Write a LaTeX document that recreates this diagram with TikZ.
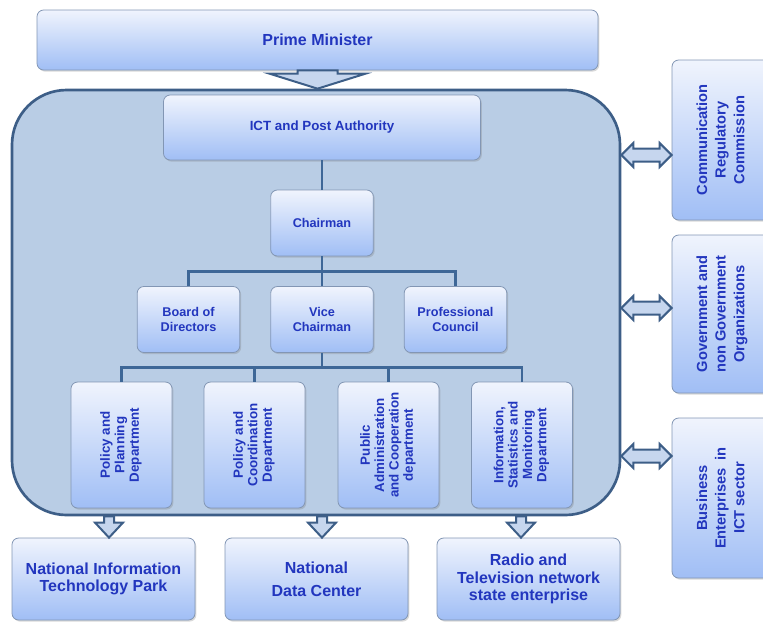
\documentclass[tikz,border=0pt]{standalone}
\usepackage{fontspec}
\setmainfont{Liberation Sans}
\usepackage{graphicx}
\usepackage{tikz}
\usetikzlibrary{calc, positioning, shadings, shadows}
\usepackage{xcolor}
\definecolor{HubFill}{RGB}{185,205,229}
\definecolor{HubLine}{RGB}{61,94,135}
\definecolor{LinkBlue}{RGB}{62,103,151}
\definecolor{BoxTop}{RGB}{240,244,253}
\definecolor{BoxBottom}{RGB}{160,190,245}
\definecolor{BoxEdge}{RGB}{130,150,180}
\definecolor{TextBlue}{RGB}{34,54,190}
\definecolor{ArrowFill}{RGB}{198,214,238}
\newcommand{\uptext}[1]{\rotatebox{90}{\begin{tabular}{@{}c@{}}#1\end{tabular}}}
\tikzset{%
  hub_block/.style={%
    rectangle,%
    rounded corners=41pt,%
    draw=HubLine,%
    line width=2pt,%
    fill=HubFill,%
    minimum width=456pt,%
    minimum height=318.75pt%
  },
  org_block/.style={%
    rectangle,%
    rounded corners=5pt,%
    draw=BoxEdge,%
    line width=0.6pt,%
    top color=BoxTop,%
    bottom color=BoxBottom,%
    text=TextBlue,%
    align=center,%
    inner sep=0pt,%
    drop shadow={opacity=0.3, shadow xshift=1pt, shadow yshift=-1.2pt},%
  },
  pm_block/.style={%
    org_block,%
    minimum width=420.75pt,%
    minimum height=45pt,%
    font={\bfseries\fontsize{12}{14}\selectfont},%
  },
  head_block/.style={%
    org_block,%
    minimum width=237.75pt,%
    minimum height=48.75pt,%
    font={\bfseries\fontsize{10}{12}\selectfont},%
  },
  small_block/.style={%
    org_block,%
    minimum width=77pt,%
    minimum height=49.5pt,%
    font={\bfseries\fontsize{9.5}{11.5}\selectfont},%
  },
  dept_block/.style={%
    org_block,%
    minimum width=75.75pt,%
    minimum height=94.5pt,%
    font={\bfseries\fontsize{10}{10.8}\selectfont},%
  },
  out_block/.style={%
    org_block,%
    minimum width=137.25pt,%
    minimum height=61.5pt,%
    font={\bfseries\fontsize{12}{13}\selectfont},%
  },
  side_block/.style={%
    org_block,%
    minimum width=75pt,%
    minimum height=120pt,%
    font={\bfseries\fontsize{11}{14}\selectfont},%
  },
  org_path/.style={%
    draw=LinkBlue,%
    line width=2.2pt,%
  },
  fat_arrow/.style={%
    draw=HubLine,%
    line width=1.5pt,%
    fill=ArrowFill,%
    line join=miter,%
  },
}
\begin{document}
\begin{tikzpicture}[x=0.75pt, y=0.75pt]
  \useasboundingbox (0,0) rectangle (763,-622);

  \node[hub_block] (hub) at (316,-302.5) {};

  \node[pm_block] (PM) at (317.5,-40) {Prime Minister};
  \node[head_block] (ICT) at (322,-127.5) {ICT and Post Authority};
  \node[small_block] (Chair) at (322,-223) {Chairman};
  \node[small_block] (Board) at (188.5,-319.5) {Board of\\Directors};
  \node[small_block] (Vice) at (322,-319.5) {Vice\\Chairman};
  \node[small_block] (Prof) at (455.5,-319.5) {Professional\\Council};

  \node[dept_block] (D1) at (121.5,-445) {\uptext{Policy and\\Planning\\Department}};
  \node[dept_block] (D2) at (254.5,-445) {\uptext{Policy and\\Coordination\\Department}};
  \node[dept_block] (D3) at (388.5,-445) {\uptext{Public\\Administration\\and Cooperation\\department}};
  \node[dept_block] (D4) at (522,-445) {\uptext{Information,\\Statistics and\\Monitoring\\Department}};

  \node[out_block] (NITP) at (103.5,-579) {National Information\\Technology Park};
  \node[out_block] (NDC) at (316.5,-579) {National\\[4pt]Data Center};
  \node[out_block] (RTV) at (528.5,-579) {Radio and\\Television network\\state enterprise};

  \node[side_block] (CRC) at (722,-140) {\uptext{Communication\\Regulatory\\Commission}};
  \node[side_block, minimum height=118.5pt] (GOV) at (722,-314) {\uptext{Government and\\non Government\\Organizations}};
  \node[side_block] (BUS) at (722,-498) {\uptext{Business\\Enterprises~~in\\ICT sector}};

  \draw[org_path] (ICT.south) -- (Chair.north);
  \coordinate (busA) at ($(Chair.south)!0.5!(Vice.north)$);
  \draw[org_path] (Chair.south) -- (Vice.north);
  \draw[org_path] (Board.north) |- (busA) -| (Prof.north);
  \coordinate (busB) at ($(Vice.south)!0.5!(Vice.south |- D1.north)$);
  \draw[org_path] (Vice.south) -- (busB);
  \draw[org_path] (D1.north) |- (busB) -| (D4.north);
  \draw[org_path] (D2.north) -- (D2.north |- busB);
  \draw[org_path] (D3.north) -- (D3.north |- busB);

  \draw[fat_arrow] ($(PM.south)+(-20,0)$) -- ($(PM.south |- hub.north)+(-20,15)$) -- ++(-28,0)
    -- (PM.south |- hub.north) -- ++(48,15) -- ++(-28,0) -- ($(PM.south)+(20,0)$) -- cycle;
  \foreach \out/\dx in {NITP/5.5, NDC/5.5, RTV/-7.5} {
    \coordinate (t) at ($(\out.north)+(\dx,0)$);
    \draw[fat_arrow] ($(t |- hub.south)+(-5,0)$) -- ($(t)+(-5,15)$) -- ++(-9,0)
      -- (t) -- ++(14,15) -- ++(-9,0) -- ($(t |- hub.south)+(5,0)$) -- cycle;
  }
  \foreach \side/\dy in {CRC/147.5, GOV/-5.5, BUS/-153.5} {
    \coordinate (l) at ($(hub.east)+(0,\dy)$);
    \coordinate (r) at (\side.west |- l);
    \draw[fat_arrow] (l) -- ++(12,12) -- ++(0,-5.5) -- ($(r)+(-12,6.5)$) -- ++(0,5.5) -- (r)
      -- ++(-12,-12) -- ++(0,5.5) -- ($(l)+(12,-6.5)$) -- ++(0,-5.5) -- cycle;
  }

\end{tikzpicture}
\end{document}
